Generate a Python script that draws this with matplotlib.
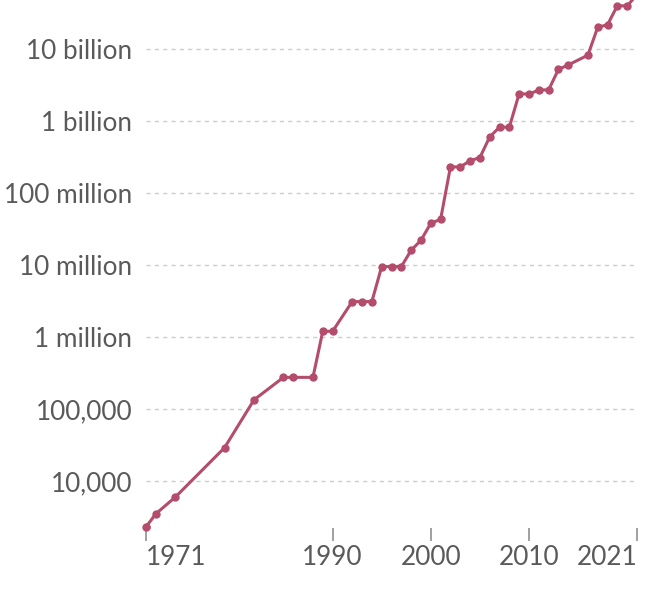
import matplotlib
matplotlib.use("Agg")
import matplotlib.pyplot as plt

# transistor counts per year (log scale chart)
years = [1971, 1972, 1974, 1979, 1982, 1985, 1986, 1988, 1989, 1990,
         1992, 1993, 1994, 1995, 1996, 1997, 1998, 1999, 2000, 2001,
         2002, 2003, 2004, 2005, 2006, 2007, 2008, 2009, 2010, 2011,
         2012, 2013, 2014, 2016, 2017, 2018, 2019, 2020, 2021]
counts = [2300, 3500, 6000, 29000, 134000, 275000, 275000, 275000, 1.2e6, 1.2e6,
          3.1e6, 3.1e6, 3.1e6, 9.5e6, 9.5e6, 9.5e6, 1.6e7, 2.2e7, 3.8e7, 4.3e7,
          2.3e8, 2.3e8, 2.8e8, 3.1e8, 6.0e8, 8.2e8, 8.2e8, 2.4e9, 2.35e9, 2.7e9,
          2.7e9, 5.2e9, 6.0e9, 8.2e9, 2.0e10, 2.17e10, 4.0e10, 3.95e10, 5.7e10]

ytick_vals = [1e4, 1e5, 1e6, 1e7, 1e8, 1e9, 1e10]
ytick_labels = ['10,000', '100,000', '1 million', '10 million',
                '100 million', '1 billion', '10 billion']
xtick_vals = [1971, 1990, 2000, 2010, 2021]

plt.rcParams['font.family'] = ['Lato', 'DejaVu Sans']

fig = plt.figure(figsize=(6.68, 5.96), dpi=100)
ax = fig.add_axes([146 / 668, 68 / 596, 491 / 668, 528 / 596])

line_color = '#b44c6c'
ax.plot(years, counts, color=line_color, linewidth=2.2, marker='o',
        markersize=5, clip_on=True, zorder=3)
# first point sits on the left edge, draw it unclipped
ax.plot(years[:1], counts[:1], color=line_color, marker='o',
        markersize=5, clip_on=False, zorder=3)

ax.set_yscale('log')
ax.set_xlim(1971, 2021)
ax.set_ylim(10 ** 3.347, 10 ** 10.68)

ax.set_yticks(ytick_vals)
ax.set_yticklabels(ytick_labels)
ax.yaxis.set_minor_locator(matplotlib.ticker.NullLocator())
ax.set_xticks(xtick_vals)
ax.set_xticklabels([str(y) for y in xtick_vals])

ax.tick_params(axis='y', length=0, pad=10, labelsize=18.8, labelcolor='#5a5a5a')
ax.tick_params(axis='x', length=9, width=1.3, color='#999999', pad=3,
               labelsize=18.8, labelcolor='#5a5a5a')

xlabels = ax.get_xticklabels()
xlabels[0].set_ha('left')
xlabels[-1].set_ha('right')

ax.grid(axis='y', color='#cccccc', linestyle=(0, (3, 3)), linewidth=1)
ax.set_axisbelow(True)
for s in ax.spines.values():
    s.set_visible(False)

fig.savefig('out.png', dpi=100)
